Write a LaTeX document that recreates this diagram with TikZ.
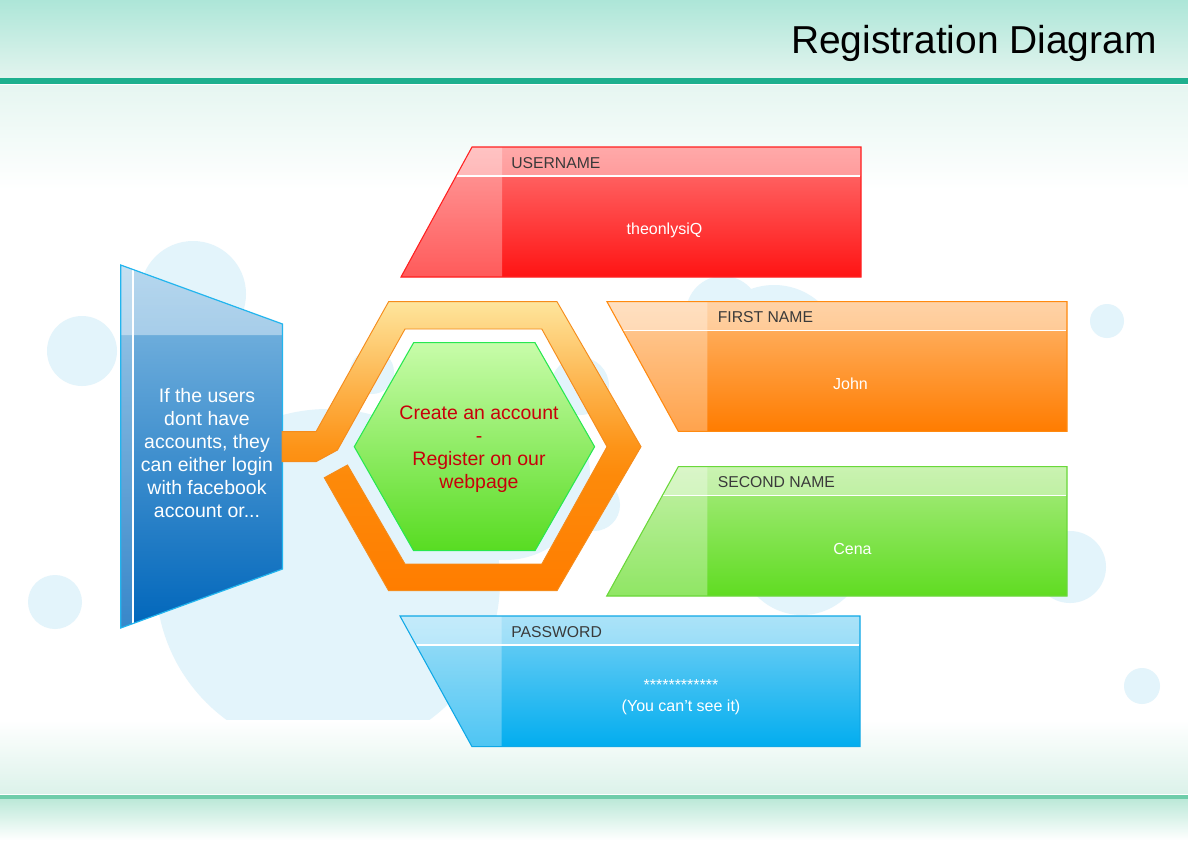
\documentclass[tikz,border=0pt]{standalone}
\usepackage{fontspec}
\setmainfont{Liberation Sans}
\definecolor{bgA}{HTML}{ADE6D8}
\definecolor{bgB}{HTML}{E2F4EE}
\definecolor{tealc}{HTML}{1EB08E}
\definecolor{fadeA}{HTML}{E6F6F1}
\definecolor{circ}{HTML}{E3F4FB}
\definecolor{bfadeB}{HTML}{DCF2EA}
\definecolor{blinec}{HTML}{6FCDAA}
\definecolor{bbandA}{HTML}{BDE9D9}
\definecolor{redT}{HTML}{FF7575}
\definecolor{redB}{HTML}{FF1414}
\definecolor{redE}{HTML}{FF2020}
\definecolor{orT}{HTML}{FFB870}
\definecolor{orB}{HTML}{FF7C00}
\definecolor{orE}{HTML}{FF8A10}
\definecolor{grT}{HTML}{AAEC82}
\definecolor{grB}{HTML}{60DC22}
\definecolor{grE}{HTML}{6AD83A}
\definecolor{blT}{HTML}{78D2F5}
\definecolor{blB}{HTML}{02ADEF}
\definecolor{blE}{HTML}{0FA8E6}
\definecolor{lbT}{HTML}{86BDE3}
\definecolor{lbB}{HTML}{0066BB}
\definecolor{lbE}{HTML}{22B5EE}
\definecolor{hxT}{HTML}{C8FCAA}
\definecolor{hxB}{HTML}{58DC22}
\definecolor{hxE}{HTML}{28E850}
\definecolor{rgT}{HTML}{FEE59C}
\definecolor{rgN}{HTML}{FDB24A}
\definecolor{rgM}{HTML}{FD9418}
\definecolor{rgC}{HTML}{FD8A0A}
\definecolor{rgB}{HTML}{FF7D00}
\definecolor{rgE}{HTML}{F58C1C}
\definecolor{lblc}{HTML}{3A3A3A}
\definecolor{hxtext}{HTML}{C8000A}
\pgfdeclareverticalshading{ringshade}{100bp}{color(0bp)=(rgB); color(25bp)=(rgB); color(45bp)=(rgC); color(50bp)=(rgM); color(60bp)=(rgN); color(75bp)=(rgT); color(100bp)=(rgT)}
\begin{document}
\begin{tikzpicture}[x=0.75pt,y=-0.75pt,
  bubble/.style={fill=circ},
  lbl/.style={anchor=west, inner sep=0pt, text=lblc, font=\fontsize{11.8}{14}\selectfont},
  val/.style={text=white, inner sep=0pt, font=\fontsize{12}{15.75}\selectfont, align=center},
  hdr/.style={fill=white, fill opacity=0.38},
  stripc/.style={fill=white, fill opacity=0.3},
  hline/.style={draw=white, line width=1.1pt},
  bigtext/.style={inner sep=0pt, align=center, font=\fontsize{14.6}{17.25}\selectfont}]
\useasboundingbox (0,0) rectangle (1188,840);
% background
\fill[white] (0,0) rectangle (1188,840);
\shade[top color=bgA, bottom color=bgB] (0,0) rectangle (1188,77.5);
\fill[tealc] (0,77.5) rectangle (1188,84);
\shade[top color=fadeA, bottom color=white] (0,85.5) rectangle (1188,190);
% bubbles
\fill[bubble] (328,581) circle (172);
\fill[bubble] (193,294) circle (53);
\fill[bubble] (82,351) circle (35);
\fill[bubble] (55,602) circle (27);
\fill[bubble] (372,372) circle (22);
\fill[bubble] (580,386) circle (29);
\fill[bubble] (594,505) circle (26);
\fill[bubble] (505,475) circle (85);
\fill[bubble] (723,313) circle (37);
\fill[bubble] (774,353) circle (68);
\fill[bubble] (802,552) circle (63);
\fill[bubble] (1070,567) circle (36);
\fill[bubble] (1107,321) circle (17);
\fill[bubble] (1142,686) circle (18);
% bottom band
\shade[top color=white, bottom color=bfadeB] (0,720) rectangle (1188,793.5);
\fill[blinec] (0,795) rectangle (1188,799.5);
\shade[top color=bbandA, bottom color=white] (0,799.5) rectangle (1188,840);
% title
\node[anchor=base east, inner sep=0pt, font=\fontsize{29.2}{34}\selectfont] (title) at (1157,53) {Registration Diagram};

% USERNAME (red)
\shade[top color=redT, bottom color=redB] (472,147) -- (861,147) -- (861,277) -- (401,277) -- cycle;
\fill[hdr] (472,147) -- (861,147) -- (861,176) -- (456.2,176) -- cycle;
\fill[stripc] (472,147) -- (502,147) -- (502,277) -- (401,277) -- cycle;
\draw[hline] (456.2,176) -- (860,176);
\draw[redE, line width=0.8pt] (472,147) -- (861,147) -- (861,277) -- (401,277) -- cycle;
\node[lbl] (uname) at (511,163.5) {USERNAME};
\node[val] (unameval) at (664.5,230) {theonlysiQ};

% FIRST NAME (orange)
\shade[top color=orT, bottom color=orB] (607,301.7) -- (1067,301.7) -- (1067,431.3) -- (678.3,431.3) -- cycle;
\fill[hdr] (607,301.7) -- (1067,301.7) -- (1067,330.3) -- (622.7,330.3) -- cycle;
\fill[stripc] (607,301.7) -- (707.3,301.7) -- (707.3,431.3) -- (678.3,431.3) -- cycle;
\draw[hline] (622.7,330.3) -- (1066,330.3);
\draw[orE, line width=0.8pt] (607,301.7) -- (1067,301.7) -- (1067,431.3) -- (678.3,431.3) -- cycle;
\node[lbl] (fname) at (717.5,317.5) {FIRST NAME};
\node[val] (fnameval) at (850.5,383.5) {John};

% SECOND NAME (green)
\shade[top color=grT, bottom color=grB] (678.3,466.7) -- (1067,466.7) -- (1067,596) -- (606.7,596) -- cycle;
\fill[hdr] (678.3,466.7) -- (1067,466.7) -- (1067,495.7) -- (662.2,495.7) -- cycle;
\fill[stripc] (678.3,466.7) -- (707.3,466.7) -- (707.3,596) -- (606.7,596) -- cycle;
\draw[hline] (662.2,495.7) -- (1066,495.7);
\draw[grE, line width=0.8pt] (678.3,466.7) -- (1067,466.7) -- (1067,596) -- (606.7,596) -- cycle;
\node[lbl] (sname) at (717.5,482.5) {SECOND NAME};
\node[val] (snameval) at (852.5,548.5) {Cena};

% PASSWORD (blue)
\shade[top color=blT, bottom color=blB] (400,616) -- (860,616) -- (860,746.7) -- (472,746.7) -- cycle;
\fill[hdr] (400,616) -- (860,616) -- (860,645) -- (416,645) -- cycle;
\fill[stripc] (400,616) -- (501.6,616) -- (501.6,746.7) -- (472,746.7) -- cycle;
\draw[hline] (416,645) -- (859,645);
\draw[blE, line width=0.8pt] (400,616) -- (860,616) -- (860,746.7) -- (472,746.7) -- cycle;
\node[lbl] (pword) at (511,632.5) {PASSWORD};
\node[val] (pwordval) at (681,697.5) {************\\(You can{\char"27}t see it)};

% left blue trapezoid
\shade[top color=lbT, bottom color=lbB] (120.7,265) -- (282.5,324) -- (282.5,569) -- (120.7,628) -- cycle;
\fill[fill=white, fill opacity=0.4] (120.7,265) -- (282.5,324) -- (282.5,335) -- (120.7,335) -- cycle;
\fill[fill=white, fill opacity=0.22] (120.7,265) -- (133,269.5) -- (133,623.5) -- (120.7,628) -- cycle;
\draw[white, line width=0.8pt] (133,269.8) -- (133,623.2);
\draw[lbE, line width=0.9pt] (120.7,265) -- (282.5,324) -- (282.5,569) -- (120.7,628) -- cycle;
\node[bigtext, text=white] (info) at (207,453) {If the users\\dont have\\accounts, they\\can either login\\with facebook\\account or...};

% orange hexagon ring with connector
\shade[shading=ringshade, draw=rgE, line width=0.7pt]
  (388.6,301.7) -- (557,301.7) -- (641,446.7) -- (557,590.7) -- (388.6,590.7)
  -- (324.3,477.7) -- (347.5,465) -- (405,564) -- (541.8,564) -- (607,446.7)
  -- (541.8,329) -- (405,329) -- (337.5,450) -- (316,461.7) -- (282,461.7)
  -- (282,431.7) -- (316,431.7) -- cycle;

% green hexagon
\shade[top color=hxT, bottom color=hxB, draw=hxE, line width=0.8pt]
  (413.6,342.7) -- (535,342.7) -- (594.6,446.7) -- (535,550.7) -- (413.6,550.7) -- (354.3,446.7) -- cycle;
\node[bigtext, text=hxtext] (center) at (479,449.5) {Create an account\\-\\Register on our\\webpage};
\end{tikzpicture}
\end{document}
